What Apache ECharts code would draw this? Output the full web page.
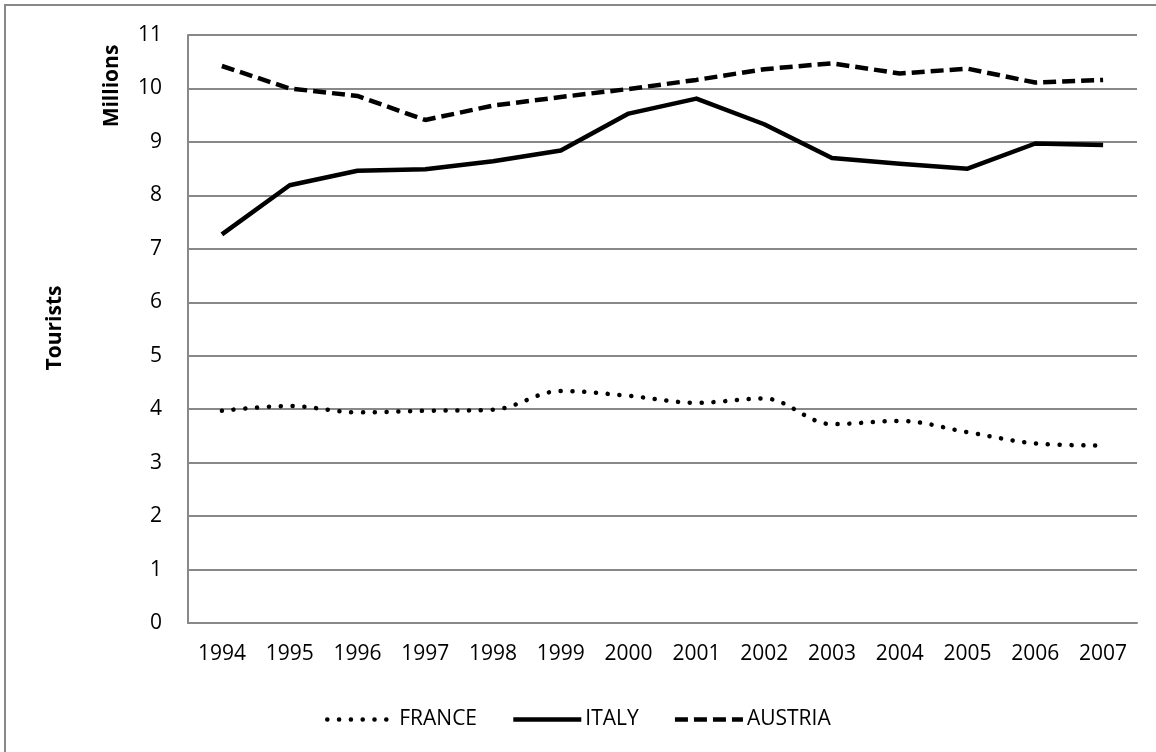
<!DOCTYPE html>
<html>
<head>
<meta charset="utf-8">
<script src="https://cdn.jsdelivr.net/npm/echarts@6/dist/echarts.min.js"></script>
<style>
html,body{margin:0;padding:0;background:#fff;}
#chart{width:1156px;height:752px;}
</style>
</head>
<body>
<div id="chart"></div>
<script>
const years = ['1994','1995','1996','1997','1998','1999','2000','2001','2002','2003','2004','2005','2006','2007'];
const france = [3.97, 4.06, 3.94, 3.97, 3.99, 4.34, 4.25, 4.12, 4.20, 3.72, 3.78, 3.57, 3.36, 3.32];
const italy = [7.27, 8.19, 8.46, 8.49, 8.64, 8.84, 9.53, 9.81, 9.33, 8.70, 8.59, 8.50, 8.97, 8.94];
const austria = [10.42, 10.00, 9.86, 9.41, 9.68, 9.84, 9.99, 10.16, 10.36, 10.47, 10.28, 10.37, 10.11, 10.16];
const yTicks = {min: 0, max: 11, interval: 1};

const FONT = '"Open Sans", sans-serif';
const dotStyle = {color: '#000', width: 4.5, type: [0.1, 11.7], cap: 'round'};
const solidStyle = {color: '#000', width: 4.5, type: 'solid', join: 'round'};
const dashStyle = {color: '#000', width: 4.5, type: [13, 6], cap: 'butt'};
const hidden = {opacity: 0, color: 'transparent', borderWidth: 0};

const chart = echarts.init(document.getElementById('chart'), null, {renderer: 'canvas'});
chart.setOption({
  backgroundColor: '#ffffff',
  animation: false,
  grid: {left: 188, right: 19, top: 35, bottom: 129, containLabel: false},
  xAxis: {
    type: 'category',
    data: years,
    boundaryGap: true,
    axisLine: {show: true, lineStyle: {color: '#888888', width: 2}},
    axisTick: {show: false},
    axisLabel: {color: '#000', fontFamily: FONT, fontSize: 21, margin: 21}
  },
  yAxis: {
    type: 'value',
    min: yTicks.min, max: yTicks.max, interval: yTicks.interval,
    axisLine: {show: true, lineStyle: {color: '#888888', width: 2}},
    axisTick: {show: false},
    splitLine: {show: true, lineStyle: {color: '#888888', width: 2}},
    axisLabel: {color: '#000', fontFamily: FONT, fontSize: 21, margin: 26}
  },
  legend: {
    left: 320, top: 704,
    itemWidth: 68, itemHeight: 14, itemGap: 34,
    textStyle: {color: '#000', fontFamily: FONT, fontSize: 21, padding: [0,0,0,-1]},
    itemStyle: hidden,
    data: [
      {name: 'FRANCE', itemStyle: hidden, lineStyle: dotStyle},
      {name: 'ITALY', itemStyle: hidden, lineStyle: solidStyle},
      {name: 'AUSTRIA', itemStyle: hidden, lineStyle: dashStyle}
    ]
  },
  series: [
    {name: 'FRANCE', type: 'line', data: france, smooth: 0.35, symbol: 'none',
     lineStyle: dotStyle, itemStyle: {color: '#000'}},
    {name: 'ITALY', type: 'line', data: italy, smooth: false, symbol: 'none',
     lineStyle: solidStyle, itemStyle: {color: '#000'}},
    {name: 'AUSTRIA', type: 'line', data: austria, smooth: false, symbol: 'none',
     lineStyle: dashStyle, itemStyle: {color: '#000'}}
  ],
  graphic: [
    {type: 'rect', shape: {x: 5, y: 5, width: 1200, height: 800},
     style: {fill: 'none', stroke: '#888888', lineWidth: 2}, silent: true},
    {type: 'text', x: 112, y: 86, rotation: Math.PI/2,
     style: {text: 'Millions', font: 'bold 21px ' + FONT, fill: '#000', align: 'center', verticalAlign: 'middle'}},
    {type: 'text', x: 55, y: 328, rotation: Math.PI/2,
     style: {text: 'Tourists', font: 'bold 21px ' + FONT, fill: '#000', align: 'center', verticalAlign: 'middle'}}
  ]
});
</script>
</body>
</html>
